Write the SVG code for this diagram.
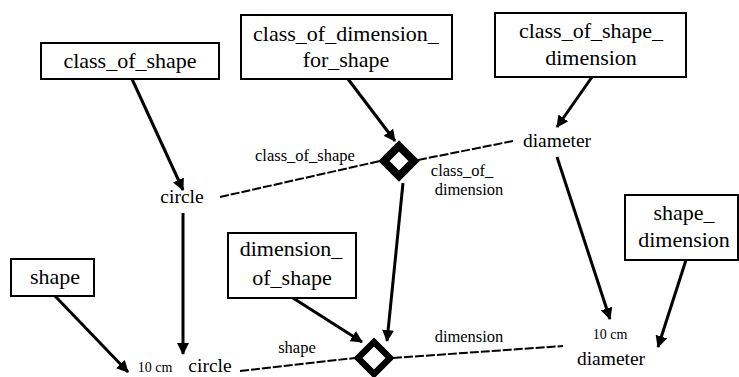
<svg xmlns="http://www.w3.org/2000/svg" width="739" height="377" viewBox="0 0 739 377">
<style>
  .box rect { fill: #fff; stroke: #000; stroke-width: 2; }
  text { font-family: "Liberation Serif", serif; fill: #000; text-anchor: middle; }
  .bt { font-size: 22px; }
  .nt { font-size: 19.5px; }
  .sm { font-size: 14px; }
  .lb { font-size: 16.5px; }
  .arr { stroke: #000; stroke-width: 3; fill: none; marker-end: url(#ah); }
  .dash { stroke: #000; stroke-width: 2; fill: none; stroke-dasharray: 9 2; }
  .dia { fill: #fff; stroke: #000; stroke-linejoin: miter; }
</style>
<defs>
  <marker id="ah" markerUnits="userSpaceOnUse" markerWidth="12" markerHeight="12" refX="11" refY="6" orient="auto">
    <path d="M0,0 L12,6 L0,12 z" fill="#000"/>
  </marker>
</defs>
<rect width="739" height="377" fill="#fff"/>

<g id="connectors">
  <line class="arr" x1="132" y1="79" x2="183" y2="190"/>
  <line class="arr" x1="348" y1="79" x2="395" y2="141"/>
  <line class="arr" x1="592" y1="77" x2="557" y2="127"/>
  <line class="arr" x1="403" y1="183" x2="387" y2="341"/>
  <line class="arr" x1="557" y1="157" x2="610" y2="319"/>
  <line class="arr" x1="686" y1="260" x2="658" y2="347"/>
  <line class="arr" x1="183" y1="213" x2="183" y2="354"/>
  <line class="arr" x1="55" y1="296" x2="128" y2="372"/>
  <line class="arr" x1="293" y1="298" x2="362" y2="342"/>
  <line class="dash" x1="220" y1="197" x2="380" y2="161"/>
  <line class="dash" x1="418" y1="160" x2="513" y2="141"/>
  <line class="dash" x1="240" y1="371" x2="355" y2="358"/>
  <line class="dash" x1="393" y1="358" x2="563" y2="346"/>
</g>

<g id="class_of_shape" class="box">
  <rect x="41" y="43" width="178" height="36"/>
  <text class="bt" x="130" y="68">class_of_shape</text>
</g>
<g id="class_of_dimension_for_shape" class="box">
  <rect x="241" y="15" width="211" height="64"/>
  <text class="bt" x="346" y="41">class_of_dimension_</text>
  <text class="bt" x="346" y="67">for_shape</text>
</g>
<g id="class_of_shape_dimension" class="box">
  <rect x="495" y="13" width="191" height="64"/>
  <text class="bt" x="591" y="38">class_of_shape_</text>
  <text class="bt" x="591" y="65">dimension</text>
</g>
<g id="shape_dimension" class="box">
  <rect x="625" y="195" width="113" height="65"/>
  <text class="bt" x="684" y="220">shape_</text>
  <text class="bt" x="684" y="247">dimension</text>
</g>
<g id="shape" class="box">
  <rect x="11" y="259" width="83" height="37"/>
  <text class="bt" x="55" y="284">shape</text>
</g>
<g id="dimension_of_shape" class="box">
  <rect x="228" y="233" width="128" height="65"/>
  <text class="bt" x="291" y="256">dimension_</text>
  <text class="bt" x="292" y="285">of_shape</text>
</g>

<g id="circle">
  <text class="nt" x="182" y="203">circle</text>
</g>
<g id="diameter">
  <text class="nt" x="557" y="147">diameter</text>
</g>
<g id="ten_cm_circle">
  <text class="sm" x="155" y="372">10 cm</text>
  <text class="nt" x="210" y="372">circle</text>
</g>
<g id="ten_cm_diameter">
  <text class="sm" x="610" y="339">10 cm</text>
  <text class="nt" x="611" y="365">diameter</text>
</g>

<g id="relation_class_of_dimension_for_shape">
  <path class="dia" d="M399,146 L414,161 L399,176 L384,161 Z" stroke-width="8"/>
  <text class="lb" x="305" y="161">class_of_shape</text>
  <text class="lb" x="462" y="176">class_of_</text>
  <text class="lb" x="469" y="195">dimension</text>
</g>
<g id="relation_dimension_of_shape">
  <path class="dia" d="M374,342 L390,358 L374,374 L358,358 Z" stroke-width="6.5"/>
  <text class="lb" x="297" y="353">shape</text>
  <text class="lb" x="469" y="342">dimension</text>
</g>
</svg>
